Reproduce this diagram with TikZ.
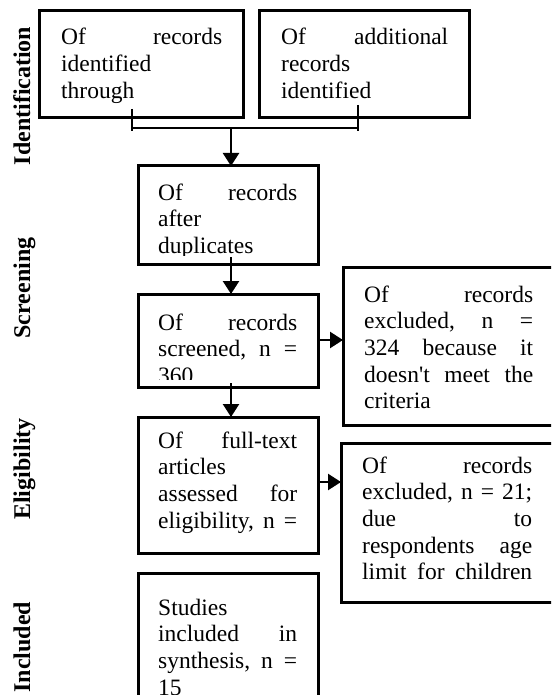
\documentclass[tikz,border=0pt]{standalone}
\usepackage{fontspec}
\setmainfont{Liberation Serif}[Ligatures=TeXOff]
\usetikzlibrary{arrows.meta}
\begin{document}
\begin{tikzpicture}[x=1pt,y=-1pt,
  box/.style={draw, line width=3pt, inner sep=0pt, outer sep=0pt, anchor=north west},
  txt/.style={anchor=base west, inner sep=0pt, align=left, font=\fontsize{23.5}{26.7}\selectfont},
  arr/.style={line width=2.4pt, -{Triangle[width=16pt,length=13pt]}},
  tick/.style={line width=2.6pt},
  lab/.style={rotate=90, anchor=base, inner sep=0pt, font=\bfseries\fontsize{24}{28}\selectfont}]
\clip (0,0) rectangle (551,695);
\fill[white] (0,0) rectangle (551,695);
% side labels
\node[lab] (lid) at (30,96) {Identification};
\node[lab] (lsc) at (30,288) {Screening};
\node[lab] (lel) at (30,469) {Eligibility};
\node[lab] (lin) at (30,647) {Included};
% boxes
\node[box, minimum width=204pt, minimum height=107pt] (b1) at (39,11) {};
\node[box, minimum width=210pt, minimum height=107pt] (b2) at (259,11) {};
\node[box, minimum width=180pt, minimum height=98pt] (b3) at (138,166) {};
\node[box, minimum width=180pt, minimum height=93pt] (b4) at (138,294) {};
\node[box, minimum width=180pt, minimum height=136pt] (b5) at (138,417) {};
\node[box, minimum width=180pt, minimum height=140pt] (b6) at (138,573) {};
\node[box, minimum width=215pt, minimum height=158pt] (r1) at (343,267) {};
\node[box, minimum width=217pt, minimum height=159pt] (r2) at (341,443) {};
% texts
\node[txt, text width=161pt] (t1) at (61,45) {Of\hfill records\\identified\\through};
\node[txt, text width=167pt] (t2) at (281,45) {Of\hfill additional\\records\\identified};
\begin{scope}
\clip (140,168) rectangle (316,255);
\node[txt, text width=139pt] (t3) at (158,200) {Of\hfill records\\after\\duplicates};
\end{scope}
\begin{scope}
\clip (140,296) rectangle (316,379);
\node[txt, text width=139pt] (t4) at (158,330) {Of\hfill records\\screened,\hfill n\hfill =\\360};
\end{scope}
\begin{scope}
\clip (140,419) rectangle (316,540);
\node[txt, text width=139pt] (t5) at (158,448) {Of\hfill full-text\\articles\\assessed\hfill for\\eligibility,\hfill n\hfill =};
\end{scope}
\node[txt, text width=139pt] (t6) at (158,615) {Studies\\included\hfill in\\synthesis,\hfill n\hfill =\\15};
\node[txt, text width=169pt] (t7) at (364,302) {Of\hfill records\\excluded,\hfill n\hfill =\\324\hfill because\hfill it\\doesn't\hfill meet\hfill the\\criteria};
\node[txt, text width=170pt] (t8) at (362,473) {Of\hfill records\\excluded,\hfill n\hfill =\hfill 21;\\due\hfill to\\respondents\hfill age\\limit\hfill for\hfill children};
% connectors
\coordinate (k1t) at (132,109);
\coordinate (k1b) at (132,131);
\coordinate (k2t) at (358,105);
\coordinate (k2b) at (358,131);
\coordinate (j) at (231,128);
\draw[tick] (k1t) -- (k1b);
\draw[tick] (k2t) -- (k2b);
\draw[tick] (k1t |- j) -- (k2t |- j);
\draw[arr] (j) -- (j |- b3.north);
\coordinate (a3) at (231,257);
\draw[arr] (a3) -- (a3 |- b4.north);
\coordinate (a4) at (231,383);
\draw[arr] (a4) -- (a4 |- b5.north);
\coordinate (e4) at (318,340);
\draw[arr] (e4) -- (e4 -| r1.west);
\coordinate (e5) at (318,482);
\draw[arr] (e5) -- (e5 -| r2.west);
\end{tikzpicture}
\end{document}
